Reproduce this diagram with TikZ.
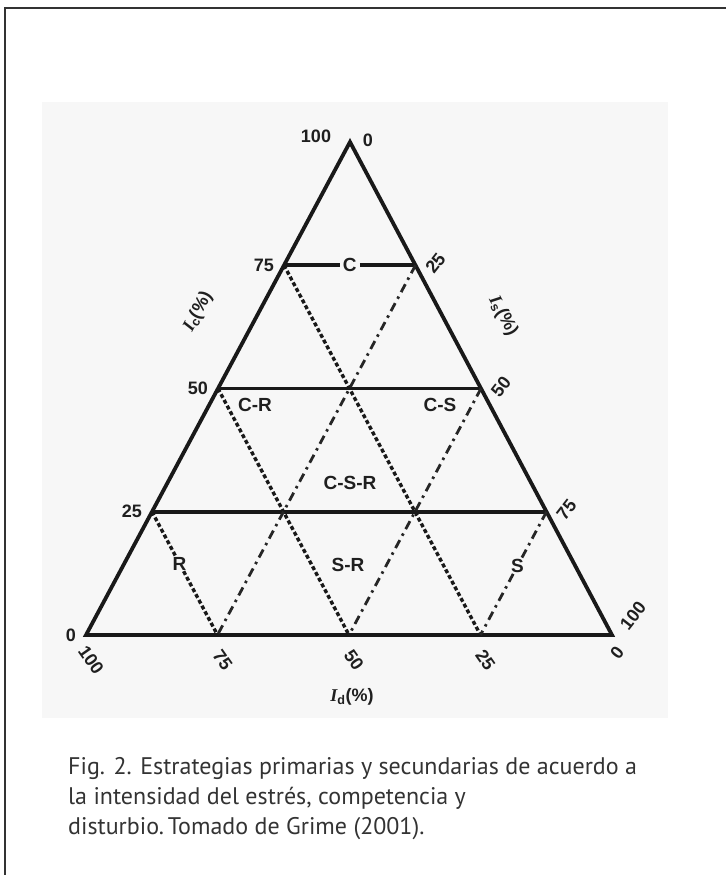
\documentclass[tikz,border=0pt]{standalone}
\usepackage{fontspec}
\setmainfont{Liberation Sans}
\newfontfamily\capfont{PT Sans}
\newfontfamily\serfont{Liberation Serif}
\usetikzlibrary{calc}

\begin{document}
\begin{tikzpicture}[x=1pt,y=-1pt]
  \useasboundingbox (0,0) rectangle (726,875);
  \fill[black!3] (42,102) rectangle (668,718);
  \draw[black!80,line width=2pt] (5,875)--(5,8)--(726,8);
  \tikzset{side/.style={draw=black!90,line width=3.8pt,line join=miter},
           dsh/.style={draw=black!90,line width=3.4pt,dash pattern=on 4pt off 2.5pt},
           dshdot/.style={draw=black!85,line width=2.8pt,dash pattern=on 9pt off 5pt on 2.5pt off 5pt},
           num/.style={text=black!88,font=\bfseries\fontsize{18}{18}\selectfont,inner sep=0pt},
           zone/.style={text=black!88,font=\bfseries\fontsize{19}{19}\selectfont,inner sep=3pt}}
  \newcommand\axI{{\serfont\bfseries\itshape I}}
  \coordinate (A) at (350,142);
  \coordinate (L) at (86,635);
  \coordinate (R) at (612,635);
  % quarter marks on the three sides
  \foreach \i/\q in {1/.25,2/.5,3/.75}{
    \coordinate (l\i) at ($(A)!\q!(L)$);
    \coordinate (r\i) at ($(A)!\q!(R)$);
    \coordinate (b\i) at ($(L)!\q!(R)$);
  }
  \node[zone] (zC) at ($(l1)!.5!(r1)$) {C};
  \node[zone,inner sep=1pt] (zR) at ($(l3)!.42!(b1)$) {R};
  \node[zone,inner sep=1pt] (zS) at ($(r3)!.44!(b3)$) {S};
  \node[zone] (zCR) at (255,405) {C-R};
  \node[zone] (zCS) at (440,405) {C-S};
  \node[zone] (zCSR) at (350,483) {C-S-R};
  \node[zone] (zSR) at (348,565) {S-R};
  \draw[side] (A)--(L)--(R)--cycle;
  \draw[side] (l1)--(zC)--(r1);
  \draw[side] (l2)--(r2);
  \draw[side] (l3)--(r3);
  \draw[dsh] (l1)--(b3);
  \draw[dsh] (l2)--(b2);
  \draw[dsh] (l3)--(zR)--(b1);
  \draw[dshdot] (r1)--(b1);
  \draw[dshdot] (r2)--(b2);
  \draw[dshdot] (r3)--(zS)--(b3);
  % scale numbers
  \node[num] (nA) at (316,136) {100};
  \node[num] (nA0) at (368,140) {0};
  \foreach \p/\t in {l1/75,l2/50,l3/25,L/0}
    \node[num,anchor=east] (n\p) at ($(\p)+(-10,0)$) {\t};
  \foreach \p/\t in {r1/25,r2/50,r3/75}
    \node[num,rotate=52] (n\p) at ($(\p)+(20,-2)$) {\t};
  \node[num,rotate=52] (nR) at ($(R)+(21,-19)$) {100};
  \node[num,rotate=52] (nR0) at ($(R)+(5,18)$) {0};
  \foreach \p/\t in {L/100,b1/75,b2/50,b3/25}
    \node[num,rotate=-55] (m\p) at ($(\p)+(5,25)$) {\t};
  \node[num] (nIc) at (198,312) [rotate=62] {\axI\textsubscript{c}(\%)};
  \node[num] (nIs) at (503,316) [rotate=-62] {\axI\textsubscript{s}(\%)};
  \node[num] (nId) at (352,697) {\axI\textsubscript{d}(\%)};
  \node[anchor=north west,align=left,text=black!80,font=\capfont\fontsize{24}{30}\selectfont,inner sep=0pt]
    (cap) at (68,757) {Fig. 2. Estrategias primarias y secundarias de acuerdo a\\
      la intensidad del estrés, competencia y\\
      disturbio.\,Tomado de Grime (2001).};
\end{tikzpicture}
\end{document}
